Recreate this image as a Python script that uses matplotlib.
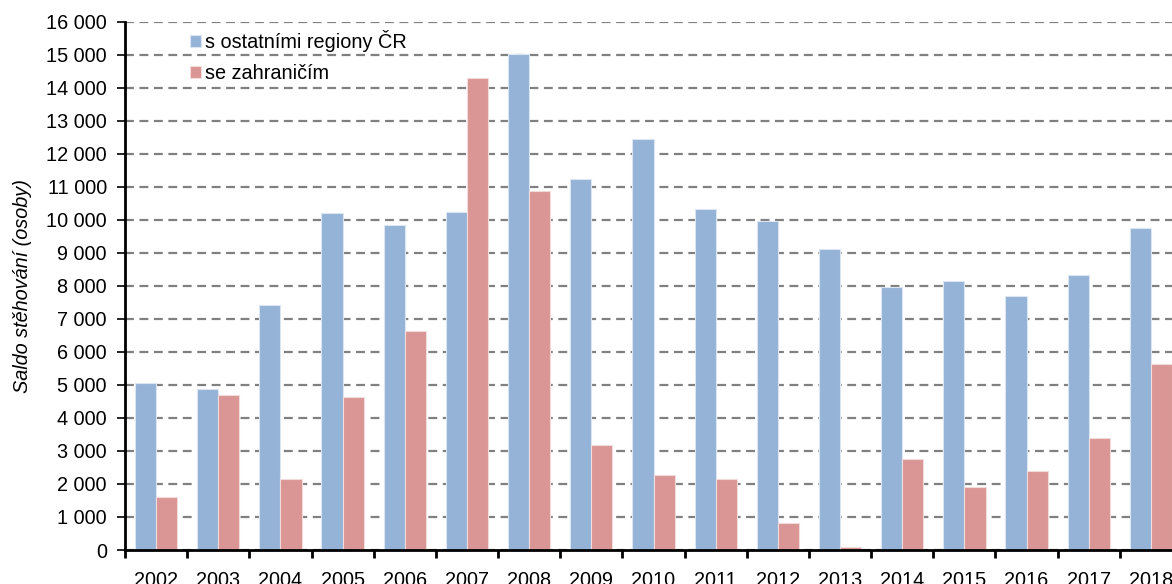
import matplotlib
matplotlib.use('Agg')
import matplotlib.pyplot as plt
import numpy as np
from matplotlib.ticker import FuncFormatter, MultipleLocator

# Data
years = ['2002', '2003', '2004', '2005', '2006', '2007', '2008', '2009', '2010',
         '2011', '2012', '2013', '2014', '2015', '2016', '2017', '2018']
regiony = [5050, 4880, 7420, 10200, 9830, 10250, 15030, 11230, 12450,
           10320, 9960, 9110, 7960, 8150, 7700, 8330, 9760]
zahranici = [1610, 4700, 2150, 4640, 6640, 14300, 10880, 3180, 2270,
             2150, 820, 100, 2760, 1910, 2390, 3400, 5640]
series_names = ['s ostatními regiony ČR', 'se zahraničím']

plt.rcParams['font.family'] = ['Liberation Sans', 'DejaVu Sans']
fs = 14.3

fig = plt.figure(figsize=(11.72, 5.84), dpi=100)
ax = fig.add_axes([125 / 1172, 34 / 584, 1057 / 1172, 528.3 / 584])

x = np.arange(len(years))
w = 0.34
ax.bar(x - w / 2, regiony, w, color='#95B3D7', edgecolor='#dce6f2', linewidth=0.8,
       label=series_names[0], zorder=3)
ax.bar(x + w / 2, zahranici, w, color='#D99694', edgecolor='#f2dcdb', linewidth=0.8,
       label=series_names[1], zorder=3)

ax.set_xlim(-0.5, len(years) - 0.5)
ax.set_ylim(0, 16000)
ax.yaxis.set_major_locator(MultipleLocator(1000))
ax.yaxis.set_major_formatter(FuncFormatter(lambda v, p: f'{int(v):,}'.replace(',', ' ')))

# kategorie mezi ticky (jako v Excelu)
ax.set_xticks(x)
ax.set_xticklabels(years)
ax.set_xticks(np.arange(len(years) + 1) - 0.5, minor=True)
ax.tick_params(axis='x', which='major', length=0, pad=15, labelsize=fs)
ax.tick_params(axis='x', which='minor', length=6, width=2, direction='out')
ax.tick_params(axis='y', length=6, width=1.2, direction='out', labelsize=fs, pad=7)

ax.grid(axis='y', color='#808080', linestyle=(0, (4, 2.5)), linewidth=1.6, zorder=0)
for s in ['top', 'right']:
    ax.spines[s].set_visible(False)
for s in ['left', 'bottom']:
    ax.spines[s].set_linewidth(2)
    ax.spines[s].set_zorder(4)

ax.set_ylabel('Saldo stěhování (osoby)', fontsize=fs, style='italic', labelpad=10)

ax.legend(loc='upper left', bbox_to_anchor=(0.048, 1.01), frameon=False,
          handlelength=0.55, handleheight=0.55, handletextpad=0.2,
          labelspacing=0.6, fontsize=fs, borderaxespad=0.3)

plt.savefig('out.png', dpi=100)
plt.close()
